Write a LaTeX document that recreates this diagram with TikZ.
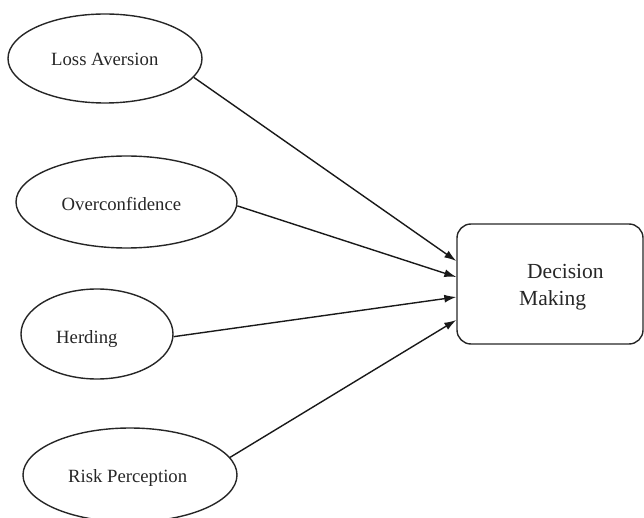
\documentclass[tikz,border=0pt]{standalone}
\usepackage{fontspec}
\setmainfont{Liberation Serif}
\usetikzlibrary{shapes.geometric,arrows.meta}
\begin{document}
\begin{tikzpicture}[x=1pt,y=-1pt,
  oval/.style={draw=black!85,line width=1.4pt,ellipse,inner sep=0pt},
  lbl/.style={anchor=base west,inner sep=0pt,text=black!85,font=\fontsize{18.7}{22}\selectfont},
  blbl/.style={anchor=base west,inner sep=0pt,text=black!85,font=\fontsize{21.5}{26}\selectfont},
  conn/.style={draw=black!90,line width=1.4pt,-{Latex[length=12pt,width=8pt]}}]
\useasboundingbox (0,0) rectangle (644,518);
\clip (0,0) rectangle (644,518);
% ellipses
\node[oval,minimum width=194pt,minimum height=89pt] (e1) at (105,58.5) {};
\node[oval,minimum width=221pt,minimum height=92pt] (e2) at (126.5,202) {};
\node[oval,minimum width=152pt,minimum height=90pt] (e3) at (97,334) {};
\node[oval,minimum width=214pt,minimum height=94pt] (e4) at (130,475) {};
% labels
\node[lbl] (t1) at (51,66) {Loss Aversion};
\node[lbl] (t2) at (61.5,210.5) {Overconfidence};
\node[lbl] (t3) at (56,343) {Herding};
\node[lbl] (t4) at (68,482.5) {Risk Perception};
% box
\node[draw=black!85,line width=1.4pt,rounded corners=14pt,minimum width=186pt,minimum height=120pt,inner sep=0pt] (box) at (550,284) {};
\node[blbl] (d1) at (527,278) {Decision};
\node[blbl] (d2) at (519,305) {Making};
% connectors
\coordinate (p1) at ([yshift=23pt]box.west);
\coordinate (p2) at ([yshift=7pt]box.west);
\coordinate (p3) at ([yshift=-13pt]box.west);
\coordinate (p4) at ([yshift=-36pt]box.west);
\draw[conn] (e1.-12.5) -- (p1);
\draw[conn] (e2.-2.6) -- (p2);
\draw[conn] (e3.-2.3) -- (p3);
\draw[conn] (e4.10.8) -- (p4);
\end{tikzpicture}
\end{document}
